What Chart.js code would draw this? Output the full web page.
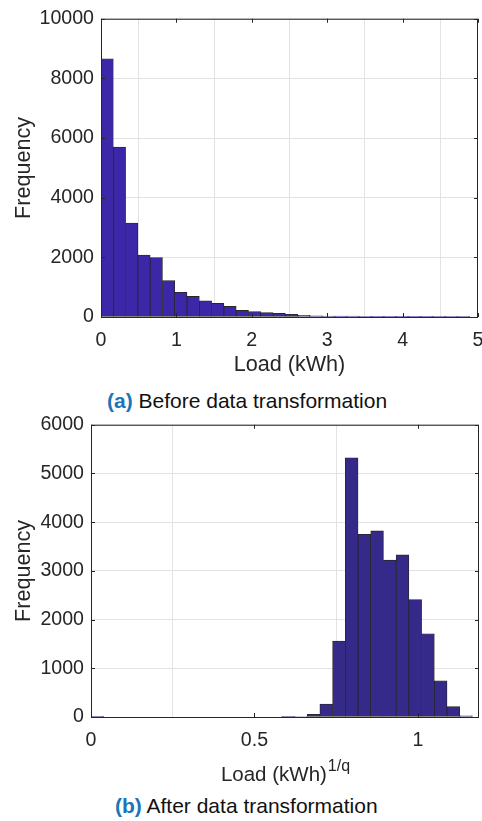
<!DOCTYPE html>
<html>
<head>
<meta charset="utf-8">
<title>Load histograms</title>
<script src="https://cdn.jsdelivr.net/npm/chart.js@4.4.1/dist/chart.umd.min.js"></script>
<style>
  html, body { margin: 0; padding: 0; background: #fff; }
  body { position: relative; width: 482px; height: 821px; overflow: hidden;
         font-family: "Liberation Sans", Arial, Helvetica, sans-serif; }
  canvas { position: absolute; left: 0; }
  #rawChart { top: 0; }
  #transChart { top: 406px; }
  .caption { position: absolute; font-size: 21px; line-height: 24px; color: #111; white-space: nowrap; }
  .caption b { color: #1a76b6; }
  #capA { left: 107px; top: 389px; }
  #capB { left: 115px; top: 794px; }
</style>
</head>
<body>
<canvas id="rawChart" width="500" height="380"></canvas>
<div class="caption" id="capA"><b>(a)</b> Before data transformation</div>
<canvas id="transChart" width="500" height="380"></canvas>
<div class="caption" id="capB"><b>(b)</b> After data transformation</div>

<script>
// Histogram of raw load (kWh)
const rawBinWidth = 0.163;
const rawCounts = [8660, 5700, 3150, 2080, 1990, 1225, 830, 690, 545, 455,
                   355, 220, 185, 150, 120, 90, 55, 40, 35, 30,
                   35, 15, 10, 8, 6, 5, 4, 3, 3, 2];
const rawXTicks = [0, 1, 2, 3, 4, 5];
const rawYTicks = [0, 2000, 4000, 6000, 8000, 10000];

// Histogram of transformed load (kWh)^(1/q)
const transBinWidth = 0.0389;
const transCounts = [15, 0, 0, 0, 0, 0, 0, 0, 0, 0,
                     0, 0, 0, 0, 0, 8, 10, 55, 265, 1560,
                     5320, 3750, 3820, 3220, 3330, 2410, 1710, 745, 215, 25];
const transXTicks = [0, 0.5, 1];
const transYTicks = [0, 1000, 2000, 3000, 4000, 5000, 6000];

const FONT = '"Liberation Sans", Arial, Helvetica, sans-serif';
const INK = '#262626';
const GRID = '#e3e3e3';

Chart.defaults.font.family = FONT;
Chart.defaults.color = INK;
Chart.defaults.animation = false;

function binPoints(width, counts) {
  return counts.map((c, i) => ({ x: (i + 0.5) * width, y: c }));
}

// box round the plot plus short inward tick marks on all four sides
const axesFrame = {
  id: 'axesFrame',
  afterDatasetsDraw(chart) {
    const { ctx, chartArea: { left, right, top, bottom }, scales: { x, y } } = chart;
    const len = 4;
    ctx.save();
    ctx.strokeStyle = INK;
    ctx.lineWidth = 1;
    ctx.beginPath();
    x.ticks.forEach(t => {
      const px = Math.round(x.getPixelForValue(t.value)) + 0.5;
      ctx.moveTo(px, bottom); ctx.lineTo(px, bottom - len);
      ctx.moveTo(px, top); ctx.lineTo(px, top + len);
    });
    y.ticks.forEach(t => {
      const py = Math.round(y.getPixelForValue(t.value)) + 0.5;
      ctx.moveTo(left, py); ctx.lineTo(left + len, py);
      ctx.moveTo(right, py); ctx.lineTo(right - len, py);
    });
    ctx.stroke();
    ctx.strokeRect(left + 0.5, top + 0.5, right - left - 1, bottom - top);
    ctx.restore();
  }
};

// x title with a superscript exponent, centred under the plot
const powerTitle = {
  id: 'powerTitle',
  afterDraw(chart, args, opts) {
    const { ctx, chartArea: { left, right } } = chart;
    ctx.save();
    ctx.fillStyle = INK;
    ctx.textBaseline = 'alphabetic';
    ctx.font = '20.5px ' + FONT;
    const base = opts.base;
    const w1 = ctx.measureText(base).width;
    ctx.font = '16px ' + FONT;
    const w2 = ctx.measureText(opts.sup).width;
    const x0 = (left + right) / 2 - (w1 + w2) / 2;
    ctx.font = '20.5px ' + FONT;
    ctx.fillText(base, x0, opts.y);
    ctx.font = '16px ' + FONT;
    ctx.fillText(opts.sup, x0 + w1 + 1, opts.y - 10);
    ctx.restore();
  }
};

function histOptions(cfg) {
  return {
    responsive: false,
    layout: { padding: { top: 16, right: cfg.padRight, left: 0, bottom: 0 } },
    plugins: {
      legend: { display: false },
      tooltip: { enabled: false },
      powerTitle: cfg.powerTitle || false
    },
    scales: {
      x: {
        type: 'linear',
        offset: false,
        min: cfg.xMin,
        max: cfg.xMax,
        afterBuildTicks: s => { s.ticks = cfg.xTicks.map(v => ({ value: v })); },
        afterFit: s => { s.height = cfg.xHeight; },
        grid: { color: GRID, drawTicks: false },
        border: { display: false },
        ticks: { padding: 12, maxRotation: 0, font: { size: 19.6 }, color: INK,
                 callback: v => String(v) },
        title: cfg.xTitle
          ? { display: true, text: cfg.xTitle, color: INK, font: { size: 21.6 },
              padding: { top: 0, bottom: 2 } }
          : { display: false }
      },
      y: {
        min: 0,
        max: cfg.yMax,
        afterBuildTicks: s => { s.ticks = cfg.yTicks.map(v => ({ value: v })); },
        afterFit: s => { s.width = cfg.yWidth; },
        grid: { color: GRID, drawTicks: false },
        border: { display: false },
        ticks: { padding: 7, font: { size: 19.6 }, color: INK, callback: v => String(v) },
        title: { display: true, text: 'Frequency', color: INK, font: { size: 21.6 },
                 padding: { top: 11, bottom: 0 } }
      }
    }
  };
}

new Chart(document.getElementById('rawChart'), {
  type: 'bar',
  data: {
    datasets: [{
      data: binPoints(rawBinWidth, rawCounts),
      backgroundColor: '#3d27a9',
      borderColor: INK,
      borderWidth: 0.8,
      borderSkipped: false,
      barPercentage: 1,
      categoryPercentage: 1
    }]
  },
  options: histOptions({
    xMin: 0, xMax: 5, xTicks: rawXTicks, yMax: 10000, yTicks: rawYTicks,
    yWidth: 101, xHeight: 63, padRight: 22, xTitle: 'Load (kWh)'
  }),
  plugins: [axesFrame]
});

new Chart(document.getElementById('transChart'), {
  type: 'bar',
  data: {
    datasets: [{
      data: binPoints(transBinWidth, transCounts),
      backgroundColor: '#35298a',
      borderColor: INK,
      borderWidth: 0.8,
      borderSkipped: false,
      barPercentage: 1,
      categoryPercentage: 1
    }]
  },
  options: histOptions({
    xMin: 0, xMax: 1.187, xTicks: transXTicks, yMax: 6000, yTicks: transYTicks,
    yWidth: 91, xHeight: 69, padRight: 21,
    powerTitle: { base: 'Load (kWh)', sup: '1/q', y: 375 }
  }),
  plugins: [axesFrame, powerTitle]
});
</script>
</body>
</html>
